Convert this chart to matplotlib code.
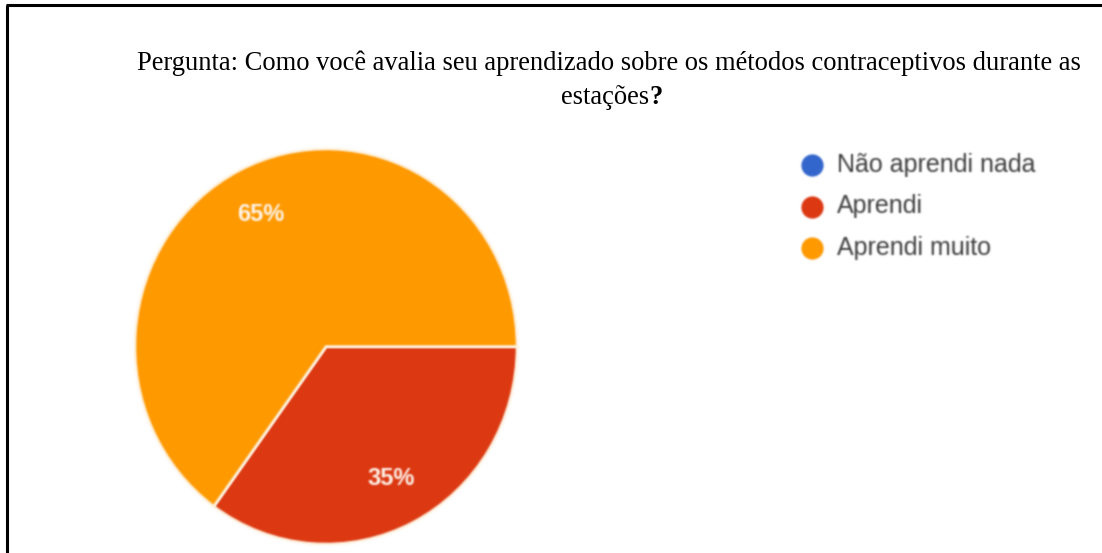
import matplotlib
matplotlib.use("Agg")
import matplotlib.pyplot as plt
import numpy as np

# Survey answers (share of respondents, %)
categories = ["Não aprendi nada", "Aprendi", "Aprendi muito"]
values = [0, 35, 65]
colors = ["#3366CC", "#DC3912", "#FF9900"]

title_line1 = "Pergunta: Como você avalia seu aprendizado sobre os métodos contraceptivos durante as"
title_line2 = "estações"
title_mark = "?"

W, H, DPI = 1102, 553, 100
fig = plt.figure(figsize=(W / DPI, H / DPI), dpi=DPI)
fig.patch.set_facecolor("white")


class SoftBlur:
    """Small gaussian blur used as an agg_filter for the chart artists."""

    def __init__(self, sigma=1.0):
        self.sigma = sigma

    def __call__(self, im, dpi):
        s = self.sigma
        pad = int(np.ceil(3 * s))
        k = np.exp(-0.5 * (np.arange(-pad, pad + 1) / s) ** 2)
        k /= k.sum()
        a = np.pad(im, ((pad, pad), (pad, pad), (0, 0)), mode="constant")
        # premultiply so transparent edges don't darken colours
        rgb = a[..., :3] * a[..., 3:4]
        alpha = a[..., 3:4]
        stack = np.concatenate([rgb, alpha], axis=2)
        for axis in (0, 1):
            stack = np.apply_along_axis(
                lambda v: np.convolve(v, k, mode="same"), axis, stack)
        out = np.zeros_like(stack)
        al = stack[..., 3:4]
        out[..., :3] = np.where(al > 1e-6, stack[..., :3] / np.maximum(al, 1e-6), 0)
        out[..., 3:4] = al
        return np.clip(out, 0, 1), -pad, -pad


blur = SoftBlur(0.9)

# Overlay axes in pixel units for frame lines, title and legend
ov = fig.add_axes([0, 0, 1, 1], zorder=0)
ov.set_xlim(0, W)
ov.set_ylim(H, 0)
ov.axis("off")

# Frame: top and left rules
ov.plot([6, W], [5, 5], color="black", lw=2.2, solid_capstyle="butt")
ov.plot([7, 7], [5, H], color="black", lw=2.2, solid_capstyle="butt")

# Title, centred paragraph of two lines
serif = "Liberation Serif"
tsize = 19.1
xc, base1, base2 = 609, 70, 104
ov.text(xc, base1, title_line1, family=serif, fontsize=tsize, ha="center",
        va="baseline", color="black")
ov.text(xc + 40, base2, title_line2, family=serif, fontsize=tsize, ha="right",
        va="baseline", color="black")
ov.text(xc + 40, base2, title_mark, family=serif, fontsize=tsize,
        fontweight="bold", ha="left", va="baseline", color="black")

# Pie chart
cx, cy, rx, ry = 326, 346.5, 191, 197.5
ax = fig.add_axes([(cx - rx) / W, (H - cy - ry) / H, 2 * rx / W, 2 * ry / H],
                  zorder=1)


def pct_label(p):
    return "" if p < 0.5 else f"{p:.0f}%"


wedges, texts, autotexts = ax.pie(
    values, colors=colors, startangle=0, counterclock=False,
    autopct=pct_label, pctdistance=0.75,
    wedgeprops=dict(edgecolor="#FFF3E0", linewidth=1.8),
    textprops=dict(color="#FFF5EC", fontsize=17, family="Liberation Sans",
                   fontweight="bold"),
)
ax.set_aspect("auto")
ax.set_xlim(-1, 1)
ax.set_ylim(-1, 1)
ax.axis("off")
for art in list(wedges) + list(autotexts):
    art.set_agg_filter(blur)
    art.set_rasterized(True)

# Legend
leg_x, leg_y0, leg_dy = 812, 165, 41.5
for i, (name, col) in enumerate(zip(categories, colors)):
    y = leg_y0 + i * leg_dy
    mk, = ov.plot([leg_x], [y], marker="o", markersize=16, color=col,
                  markeredgewidth=0, linestyle="none")
    tx = ov.text(leg_x + 25, y, name, family="Liberation Sans", fontsize=18,
                 color="#3c3c3c", ha="left", va="center")
    for art in (mk, tx):
        art.set_agg_filter(blur)
        art.set_rasterized(True)

fig.savefig("out.png", dpi=DPI, facecolor="white")
